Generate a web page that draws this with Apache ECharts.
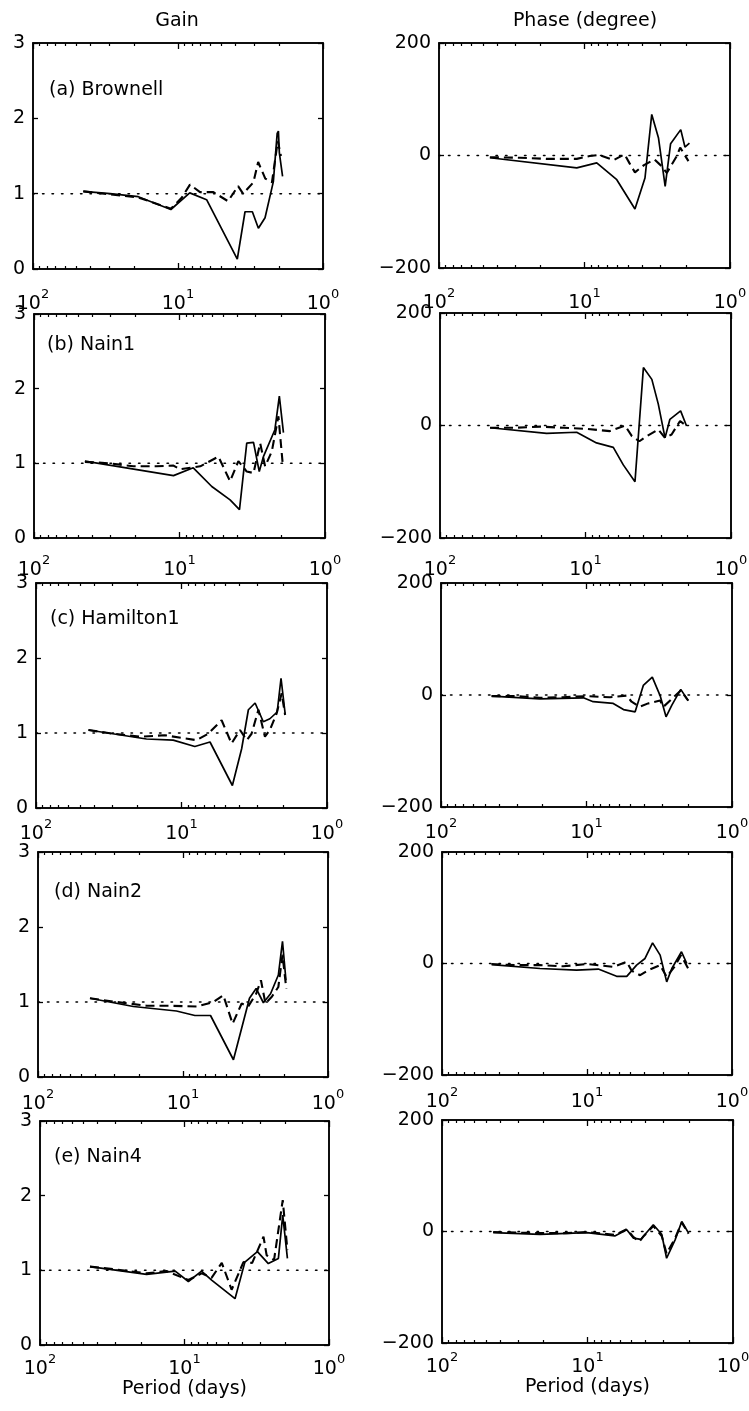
<!DOCTYPE html>
<html><head><meta charset="utf-8">
<script src="https://cdn.jsdelivr.net/npm/echarts@6/dist/echarts.min.js"></script>
<style>html,body{margin:0;padding:0;background:#fff}#c{width:749px;height:1411px}</style>
</head><body><div id="c"></div>
<script>
// ---------- DATA (period in days, gain, phase in degrees) ----------
const columnTitles = ['Gain', 'Phase (degree)'];
const xAxisTitle = 'Period (days)';
const panelLabels = ['(a) Brownell', '(b) Nain1', '(c) Hamilton1', '(d) Nain2', '(e) Nain4'];
const periodRange = [1, 100];
const minorTickValues = [2, 3, 4, 5, 6, 7, 8, 9, 20, 30, 40, 50, 60, 70, 80, 90];
const gainRange = [0, 3];
const phaseRange = [-200, 200];
const gainRef = 1;
const phaseRef = 0;

// (a) Brownell
const aGainSolidP = [45, 29.4, 18.8, 11.2, 8.3, 6.35, 3.9, 3.45, 3.07, 2.79, 2.51, 2.2, 2.07, 2.03, 2.0, 1.9];
const aGainSolidV = [1.03, 1.0, 0.96, 0.79, 1.01, 0.92, 0.13, 0.76, 0.76, 0.54, 0.68, 1.16, 1.8, 1.83, 1.54, 1.23];
const aGainDashP = [45, 29.4, 18.8, 11.2, 9.4, 8.27, 7.05, 5.7, 4.52, 3.85, 3.56, 3.02, 2.8, 2.5, 2.25, 2.05, 1.95];
const aGainDashV = [1.03, 0.99, 0.95, 0.80, 0.95, 1.12, 1.02, 1.02, 0.90, 1.10, 1.0, 1.15, 1.42, 1.2, 1.15, 1.7, 1.5];
const aPhaseSolidP = [44.7, 11.3, 8.24, 6.0, 4.5, 3.84, 3.45, 3.1, 2.79, 2.56, 2.18, 2.04, 1.9];
const aPhaseSolidV = [-4, -22, -13, -43, -95, -40, 73, 31, -55, 21, 46, 15, 22];
const aPhaseDashP = [44.7, 27.8, 18.2, 11.3, 9.2, 8.0, 6.3, 5.3, 4.9, 4.5, 3.9, 3.3, 2.95, 2.72, 2.32, 2.2, 1.93];
const aPhaseDashV = [-3, -4, -6, -6, -1, 1, -8, 2, -14, -30, -17, -7, -19, -31, -1, 14, -10];

// (b) Nain1
const bGainSolidP = [44.7, 11.0, 8.04, 6.0, 4.49, 3.87, 3.45, 3.1, 2.83, 2.65, 2.21, 2.06, 1.93];
const bGainSolidV = [1.03, 0.835, 0.94, 0.69, 0.51, 0.38, 1.27, 1.28, 0.89, 1.09, 1.45, 1.90, 1.41];
const bGainDashP = [44.7, 30, 20.8, 14.4, 11.0, 9.9, 7.2, 5.4, 4.49, 3.94, 3.45, 3.1, 2.79, 2.58, 2.32, 2.09, 1.95];
const bGainDashV = [1.02, 1.0, 0.96, 0.96, 0.97, 0.92, 0.96, 1.09, 0.76, 1.03, 0.89, 0.87, 1.27, 0.96, 1.16, 1.63, 0.98];
const bPhaseSolidP = [45.3, 18.5, 11.5, 8.4, 6.44, 5.5, 4.57, 4.0, 3.5, 3.16, 2.84, 2.63, 2.22, 2.02];
const bPhaseSolidV = [-4, -14, -12, -31, -39, -70, -100, 103, 82, 38, -22, 11, 26, -1];
const bPhaseDashP = [45.3, 31, 20.5, 14.2, 9.8, 6.8, 5.35, 4.8, 4.26, 3.8, 3.16, 2.84, 2.56, 2.24, 2.02];
const bPhaseDashV = [-4, -4, -2, -4, -6, -10, 0, -19, -28, -19, -7, -22, -16, 8, -1];

// (c) Hamilton1
const cGainSolidP = [43.6, 17.4, 11.4, 8.1, 6.37, 4.47, 3.86, 3.47, 3.12, 2.74, 2.47, 2.2, 2.07, 1.94];
const cGainSolidV = [1.04, 0.92, 0.905, 0.82, 0.88, 0.30, 0.79, 1.31, 1.40, 1.15, 1.19, 1.28, 1.73, 1.26];
const cGainDashP = [43.6, 29.4, 19.3, 13, 9.7, 7.87, 6.55, 5.3, 4.53, 3.96, 3.56, 3.3, 2.96, 2.67, 2.47, 2.22, 2.05, 1.94];
const cGainDashV = [1.04, 0.99, 0.95, 0.97, 0.93, 0.905, 0.99, 1.17, 0.86, 1.04, 0.905, 0.99, 1.31, 0.95, 1.04, 1.26, 1.53, 1.24];
const cPhaseSolidP = [44.9, 20.9, 10.5, 9.0, 6.55, 5.57, 4.63, 4.07, 3.53, 3.12, 2.84, 2.59, 2.25, 2.0];
const cPhaseSolidV = [-2, -7, -5, -12, -15, -26, -30, 17, 32, -1, -39, -18, 10, -10];
const cPhaseDashP = [44.9, 30, 20.9, 14.5, 10, 6.9, 5.3, 4.9, 4.3, 3.77, 3.12, 2.96, 2.25, 2.0];
const cPhaseDashV = [-2, -2, -5, -4, -2, -4, -1, -12, -21, -15, -10, -21, 8, -10];

// (d) Nain2
const dGainSolidP = [43.8, 22, 11.1, 8.28, 6.46, 4.49, 3.48, 3.13, 2.79, 2.49, 2.2, 2.06, 1.95];
const dGainSolidV = [1.05, 0.94, 0.88, 0.82, 0.82, 0.23, 1.05, 1.18, 0.99, 1.11, 1.36, 1.81, 1.29];
const dGainDashP = [43.8, 28.7, 17.8, 12.3, 8.05, 6.17, 5.27, 4.55, 3.94, 3.55, 3.13, 2.9, 2.7, 2.44, 2.2, 2.06, 1.94];
const dGainDashV = [1.05, 1.0, 0.95, 0.95, 0.94, 1.0, 1.09, 0.71, 0.98, 0.94, 1.11, 1.29, 0.98, 1.07, 1.2, 1.63, 1.18];
const dPhaseSolidP = [45.5, 21.1, 11.8, 8.36, 6.25, 5.32, 4.55, 3.98, 3.53, 3.13, 2.82, 2.6, 2.23, 2.05];
const dPhaseSolidV = [-2, -9, -12, -10, -23, -23, -3, 9, 37, 15, -33, -9, 21, 0];
const dPhaseDashP = [45.5, 30.6, 21.1, 14.6, 10, 6.58, 5.32, 4.92, 4.3, 3.78, 3.13, 2.82, 2.48, 2.25, 1.95];
const dPhaseDashV = [-1, -3, -3, -5, -1, -6, 3, -13, -21, -12, -3, -24, -5, 15, -15];

// (e) Nain4
const eGainSolidP = [45.1, 18.3, 11.6, 9.4, 7.62, 6.49, 4.47, 3.82, 3.13, 2.63, 2.24, 2.09, 1.94];
const eGainSolidV = [1.05, 0.945, 0.99, 0.85, 0.99, 0.87, 0.62, 1.11, 1.25, 1.09, 1.16, 1.74, 1.16];
const eGainDashP = [45.1, 29.5, 18.3, 13.3, 9.4, 7.6, 6.5, 5.52, 4.72, 3.91, 3.4, 2.84, 2.7, 2.4, 2.09, 1.94];
const eGainDashV = [1.05, 1.01, 0.96, 0.99, 0.87, 0.96, 0.9, 1.10, 0.74, 1.11, 1.1, 1.45, 1.2, 1.14, 1.94, 1.27];
const ePhaseSolidP = [44.5, 21.2, 10.1, 6.49, 5.37, 4.83, 4.3, 3.53, 3.09, 2.86, 2.5, 2.25, 2.02];
const ePhaseSolidV = [-2, -5, -2, -8, 3, -12, -14, 12, -5, -48, -15, 18, -3];
const ePhaseDashP = [44.5, 30, 20, 14, 10, 6.49, 5.37, 4.83, 4.4, 4.1, 3.53, 3.09, 2.86, 2.5, 2.25, 2.02];
const ePhaseDashV = [-1, -2, -3, -3, -1, -6, 4, -10, -18, -8, 10, -8, -40, -12, 16, -4];

const panelData = [
  [[aGainSolidP, aGainSolidV], [aGainDashP, aGainDashV], [aPhaseSolidP, aPhaseSolidV], [aPhaseDashP, aPhaseDashV]],
  [[bGainSolidP, bGainSolidV], [bGainDashP, bGainDashV], [bPhaseSolidP, bPhaseSolidV], [bPhaseDashP, bPhaseDashV]],
  [[cGainSolidP, cGainSolidV], [cGainDashP, cGainDashV], [cPhaseSolidP, cPhaseSolidV], [cPhaseDashP, cPhaseDashV]],
  [[dGainSolidP, dGainSolidV], [dGainDashP, dGainDashV], [dPhaseSolidP, dPhaseSolidV], [dPhaseDashP, dPhaseDashV]],
  [[eGainSolidP, eGainSolidV], [eGainDashP, eGainDashV], [ePhaseSolidP, ePhaseSolidV], [ePhaseDashP, ePhaseDashV]]
];

// ---------- LAYOUT ----------
const FONT = 'DejaVu Sans';
const FS = 19;
const gridBoxes = [
  [[33, 43, 290, 226], [439, 43, 291, 225]],
  [[34, 314, 291, 224], [440, 313, 291, 225]],
  [[36, 583, 291, 225], [441, 583, 291, 224]],
  [[38, 852, 290, 225], [442, 852, 290, 223]],
  [[40, 1121, 289, 224], [442, 1120, 291, 223]]
];
const xLabelMargins = [19, 16, 10, 11, 8];
const panelLabelPos = [[49, 90], [47, 345], [50, 619], [54, 892], [54, 1157]];

const chart = echarts.init(document.getElementById('c'), null, {renderer: 'canvas'});

const grids = [], xAxes = [], yAxes = [], series = [], graphics = [];
const black = '#000';

function xLabelFmt(v) {
  const e = Math.round(Math.log10(v));
  return '{b|10}{s|' + e + '}';
}
const xRich = {
  b: {fontSize: FS, fontFamily: FONT, color: black, verticalAlign: 'bottom'},
  s: {fontSize: 13, fontFamily: FONT, color: black, verticalAlign: 'top', padding: [0, 0, 13, 0]}
};
function yLabelFmt(v) {
  return String(v).replace('-', '\u2212');
}

for (let i = 0; i < 5; i++) {
  for (let c = 0; c < 2; c++) {
    const g = i * 2 + c;
    const [l, t, w, h] = gridBoxes[i][c];
    grids.push({left: l, top: t, width: w, height: h, containLabel: false, outerBoundsMode: 'none',
      show: true, borderColor: black, borderWidth: 1.5, backgroundColor: 'transparent'});
    const baseX = {
      gridIndex: g, type: 'log', logBase: 10, min: periodRange[0], max: periodRange[1], inverse: true,
      axisLine: {show: true, onZero: false, lineStyle: {color: black, width: 1.5}},
      axisTick: {show: true, inside: true, length: 6, lineStyle: {color: black, width: 1.3}},
      minorTick: {show: false},
      splitLine: {show: false}, minorSplitLine: {show: false}
    };
    const minorX = {
      gridIndex: g, type: 'log', logBase: 10, min: periodRange[0], max: periodRange[1], inverse: true,
      axisLine: {show: false, onZero: false},
      axisTick: {show: true, inside: true, length: 3, customValues: minorTickValues,
        lineStyle: {color: black, width: 1.2}},
      axisLabel: {show: false}, splitLine: {show: false}
    };
    // bottom main axis (series attach here)
    xAxes.push(Object.assign({}, baseX, {
      position: 'bottom',
      axisLabel: {show: true, margin: xLabelMargins[i], formatter: xLabelFmt, rich: xRich,
        showMinLabel: true, showMaxLabel: true, hideOverlap: false},
      name: i === 4 ? xAxisTitle : '',
      nameLocation: 'middle', nameGap: 29,
      nameTextStyle: {fontSize: FS, fontFamily: FONT, color: black}
    }));
    xAxes.push(Object.assign({}, minorX, {position: 'bottom'}));
    xAxes.push(Object.assign({}, baseX, {position: 'top', axisLabel: {show: false}}));
    xAxes.push(Object.assign({}, minorX, {position: 'top'}));

    const rng = c === 0 ? gainRange : phaseRange;
    const interval = c === 0 ? 1 : 200;
    const baseY = {
      gridIndex: g, type: 'value', min: rng[0], max: rng[1], interval: interval,
      axisLine: {show: true, onZero: false, lineStyle: {color: black, width: 1.5}},
      axisTick: {show: true, inside: true, length: 5, lineStyle: {color: black, width: 1.3}},
      splitLine: {show: false}
    };
    yAxes.push(Object.assign({}, baseY, {position: 'left',
      axisLabel: {show: true, margin: 8, fontSize: FS, fontFamily: FONT, color: black,
        formatter: yLabelFmt, showMinLabel: true, showMaxLabel: true}}));
    yAxes.push(Object.assign({}, baseY, {position: 'right', axisLabel: {show: false}}));

    const xi = 4 * g, yi = 2 * g;
    const solid = panelData[i][c * 2];
    const dashed = panelData[i][c * 2 + 1];
    const ref = c === 0 ? gainRef : phaseRef;
    series.push({
      type: 'line', xAxisIndex: xi, yAxisIndex: yi, showSymbol: false, silent: true,
      data: [[periodRange[1], ref], [periodRange[0], ref]],
      lineStyle: {color: black, width: 1.5, type: [1.5, 8], cap: 'round'}, z: 1
    });
    series.push({
      type: 'line', xAxisIndex: xi, yAxisIndex: yi, showSymbol: false, silent: true,
      data: dashed[0].map((p, k) => [p, dashed[1][k]]),
      lineStyle: {color: black, width: 2.1, type: [9, 5]}, z: 2
    });
    series.push({
      type: 'line', xAxisIndex: xi, yAxisIndex: yi, showSymbol: false, silent: true,
      data: solid[0].map((p, k) => [p, solid[1][k]]),
      lineStyle: {color: black, width: 1.7}, z: 3
    });
  }
  graphics.push({type: 'text', x: panelLabelPos[i][0], y: panelLabelPos[i][1],
    style: {text: panelLabels[i], font: FS + 'px "' + FONT + '"', fill: black,
      textAlign: 'left', textVerticalAlign: 'middle'}});
}
graphics.push({type: 'text', x: 177, y: 21, style: {text: columnTitles[0], font: FS + 'px "' + FONT + '"',
  fill: black, textAlign: 'center', textVerticalAlign: 'middle'}});
graphics.push({type: 'text', x: 585, y: 21, style: {text: columnTitles[1], font: FS + 'px "' + FONT + '"',
  fill: black, textAlign: 'center', textVerticalAlign: 'middle'}});

chart.setOption({
  animation: false,
  backgroundColor: '#fff',
  grid: grids,
  xAxis: xAxes,
  yAxis: yAxes,
  series: series,
  graphic: graphics
});
</script>
</body></html>
